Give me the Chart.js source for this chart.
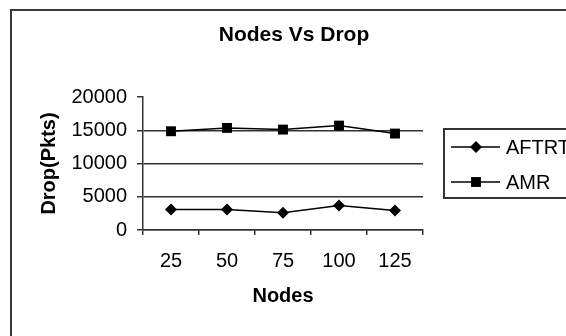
<!DOCTYPE html>
<html>
<head>
<meta charset="utf-8">
<script src="https://cdn.jsdelivr.net/npm/chart.js@4/dist/chart.umd.min.js"></script>
<style>
  html, body { margin: 0; padding: 0; background: #fff; overflow: hidden; }
  #wrap { position: relative; width: 566px; height: 336px; }
  #frame { position: absolute; left: 10px; top: 9px; width: 620px; height: 400px;
           border: 2px solid #3a3a3a; box-sizing: border-box; pointer-events: none; }
  canvas { position: absolute; left: 0; top: 0; }
</style>
</head>
<body>
<div id="wrap">
  <canvas id="c" width="566" height="336"></canvas>
  <div id="frame"></div>
</div>
<script>
// Number of nodes in the network
const nodes = ['25', '50', '75', '100', '125'];
// Dropped packets per protocol
const aftrtDrop = [3100, 3100, 2600, 3700, 2950];
const amrDrop = [14850, 15350, 15100, 15700, 14500];
// Value axis ticks
const yTicks = [0, 5000, 10000, 15000, 20000];

const FONT = '"Liberation Sans", Arial, sans-serif';
const AXIS_COLOR = '#333';
const CHART_TITLE = 'Nodes Vs Drop';

// Chart heading plus a boxed legend to the right of the plot
const decorations = {
  id: 'decorations',
  afterDraw(chart) {
    const ctx = chart.ctx;
    ctx.save();
    ctx.fillStyle = '#000';
    ctx.font = 'bold 21px ' + FONT;
    ctx.textAlign = 'center';
    ctx.textBaseline = 'middle';
    ctx.fillText(CHART_TITLE, 294, 35);

    ctx.lineWidth = 2;
    ctx.strokeStyle = AXIS_COLOR;
    ctx.strokeRect(444, 129, 200, 69);
    chart.data.datasets.forEach((ds, i) => {
      const y = 147 + i * 35;
      ctx.beginPath();
      ctx.lineWidth = 1.5;
      ctx.strokeStyle = '#000';
      ctx.moveTo(451, y);
      ctx.lineTo(500, y);
      ctx.stroke();
      ctx.fillStyle = '#000';
      Chart.helpers.drawPoint(ctx, { pointStyle: ds.pointStyle, radius: ds.pointRadius, borderWidth: 0 }, 476, y);
      ctx.fillStyle = '#000';
      ctx.font = '20px ' + FONT;
      ctx.textAlign = 'left';
      ctx.textBaseline = 'middle';
      ctx.fillText(ds.label, 506, y + 1);
    });
    ctx.restore();
  }
};

new Chart(document.getElementById('c'), {
  type: 'line',
  data: {
    labels: nodes,
    datasets: [
      {
        label: 'AFTRT',
        data: aftrtDrop,
        borderColor: '#000',
        backgroundColor: '#000',
        borderWidth: 1.5,
        pointStyle: 'rectRot',
        pointRadius: 6,
        pointBackgroundColor: '#000',
        pointBorderWidth: 0,
        tension: 0
      },
      {
        label: 'AMR',
        data: amrDrop,
        borderColor: '#000',
        backgroundColor: '#000',
        borderWidth: 1.5,
        pointStyle: 'rect',
        pointRadius: 7,
        pointBackgroundColor: '#000',
        pointBorderWidth: 0,
        tension: 0
      }
    ]
  },
  options: {
    responsive: false,
    animation: false,
    layout: { padding: { left: 0, right: 143, top: 97, bottom: 0 } },
    plugins: {
      legend: { display: false },
      tooltip: { enabled: false },
      title: { display: false }
    },
    scales: {
      x: {
        offset: true,
        grid: {
          offset: true,
          drawOnChartArea: false,
          drawTicks: true,
          tickLength: 5,
          color: AXIS_COLOR,
          lineWidth: 1.5
        },
        border: { display: true, color: AXIS_COLOR, width: 1.5 },
        ticks: {
          color: '#000',
          font: { family: FONT, size: 20 },
          padding: 14,
          maxRotation: 0
        },
        title: {
          display: true,
          text: 'Nodes',
          color: '#000',
          font: { family: FONT, size: 20, weight: 'bold' },
          padding: { top: 0, bottom: 28 }
        },
        afterFit(scale) { scale.height = 106; }
      },
      y: {
        min: yTicks[0],
        max: yTicks[yTicks.length - 1],
        afterBuildTicks(scale) { scale.ticks = yTicks.map(v => ({ value: v })); },
        grid: {
          drawTicks: true,
          tickLength: 6,
          color: (c) => (c.tick && c.tick.value === yTicks[yTicks.length - 1]) ? 'rgba(0,0,0,0)' : AXIS_COLOR,
          tickColor: AXIS_COLOR,
          lineWidth: 1.5
        },
        border: { display: true, color: AXIS_COLOR, width: 1.5 },
        ticks: {
          color: '#000',
          font: { family: FONT, size: 20 },
          padding: 10,
          callback: (v) => String(v)
        },
        title: {
          display: true,
          text: 'Drop(Pkts)',
          color: '#000',
          font: { family: FONT, size: 20, weight: 'bold' },
          padding: { top: 37, bottom: 0 }
        },
        afterFit(scale) { scale.width = 143; }
      }
    }
  },
  plugins: [decorations]
});
</script>
</body>
</html>
